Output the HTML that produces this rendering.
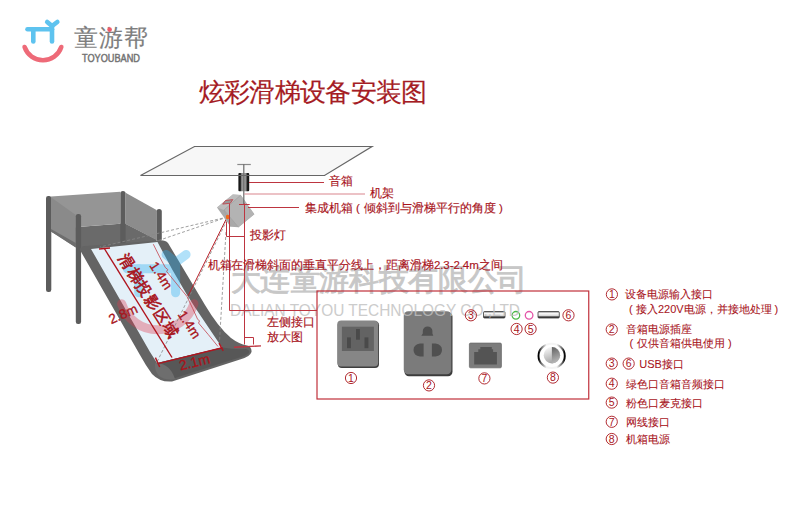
<!DOCTYPE html>
<html><head><meta charset="utf-8">
<style>
html,body{margin:0;padding:0;background:#fff;}
body{width:800px;height:531px;overflow:hidden;position:relative;font-family:"Liberation Sans",sans-serif;}
svg{position:absolute;left:0;top:0;}
svg text{font-family:"Liberation Sans",sans-serif;}
</style></head>
<body>
<svg width="800" height="531" viewBox="0 0 800 531">
<defs>
  <linearGradient id="spk" x1="0" x2="1" y1="0" y2="0">
    <stop offset="0" stop-color="#111"/>
    <stop offset="0.18" stop-color="#1e1e1e"/>
    <stop offset="0.3" stop-color="#8a8a8a"/>
    <stop offset="0.5" stop-color="#a8a8a8"/>
    <stop offset="0.7" stop-color="#8a8a8a"/>
    <stop offset="0.82" stop-color="#1e1e1e"/>
    <stop offset="1" stop-color="#111"/>
  </linearGradient>
  <linearGradient id="ring" x1="0" x2="1" y1="0" y2="0">
    <stop offset="0" stop-color="#000"/>
    <stop offset="0.1" stop-color="#666"/>
    <stop offset="0.3" stop-color="#f4f4f4"/>
    <stop offset="0.7" stop-color="#f4f4f4"/>
    <stop offset="0.9" stop-color="#666"/>
    <stop offset="1" stop-color="#000"/>
  </linearGradient>
  <linearGradient id="knobL" x1="0" x2="0.3" y1="0" y2="1">
    <stop offset="0" stop-color="#ffffff"/>
    <stop offset="1" stop-color="#a8a8a8"/>
  </linearGradient>
  <linearGradient id="knobR" x1="0" x2="0.2" y1="0" y2="1">
    <stop offset="0" stop-color="#606060"/>
    <stop offset="1" stop-color="#b8b8b8"/>
  </linearGradient>
  <linearGradient id="usb" x1="0" x2="0" y1="0" y2="1">
    <stop offset="0" stop-color="#555"/>
    <stop offset="0.2" stop-color="#fdfdfd"/>
    <stop offset="0.6" stop-color="#e0e0e0"/>
    <stop offset="0.8" stop-color="#555"/>
    <stop offset="1" stop-color="#222"/>
  </linearGradient>
</defs>

<!-- small logo -->
<g>
    <g stroke="#5ec3ef" stroke-width="4.6" stroke-linecap="round" fill="none">
      <path d="M27.5 29.2 H52"/>
      <path d="M33.3 29.2 V41.4"/>
      <path d="M52 25.5 V41.4"/>
      <path d="M47.2 22 L52 26 L57.3 22"/>
    </g>
    <path d="M24.6 47 A19.35 19.35 0 0 0 61.3 47" stroke="#ee6a78" stroke-width="4.6" stroke-linecap="round" fill="none"/>
  </g>
  
<text x="73.5" y="46.3" font-size="24" fill="#7e7e7e" stroke="#7e7e7e" stroke-width="0.15" letter-spacing="1.2">童游帮</text>
<text x="82" y="61.5" font-size="10" fill="#737373" stroke="#737373" stroke-width="0.45" textLength="58" lengthAdjust="spacingAndGlyphs">TOYOUBAND</text>
<circle cx="109.6" cy="29.6" r="2.3" fill="#f05a6a"/>

<!-- title -->
<text x="198.6" y="101.3" font-size="25.5" letter-spacing="-0.65" fill="#a51c24" stroke="#a51c24" stroke-width="0.18">炫彩滑梯设备安装图</text>

<!-- ceiling plane -->
<polygon points="194.5,146.5 372,146.5 324.5,175.5 140.5,175.5" fill="#f7f7f7" stroke="#666" stroke-width="1.2"/>

<!-- platform -->
<g>
  <rect x="46" y="196" width="5.3" height="96" rx="2.2" fill="#5c5c5c"/>
  <polygon points="51,229 120.3,223.7 125.6,223.7 156.5,239.5 156.5,241.5 81,247.5 51,231.5" fill="#6a6a6a"/>
  <rect x="120.3" y="191" width="5.3" height="54" rx="2.6" fill="#5c5c5c"/>
  <polygon points="51,196.6 120.3,191.7 120.3,223.7 51,229" fill="#959595"/>
  <polygon points="51,197.2 75.8,215 75.8,247.4 51,231.5" fill="#8a8a8a"/>
  <polygon points="51,229 75.8,243 75.8,247.4 51,231.5" fill="#6e6e6e"/>
  <polygon points="125.6,192.8 156.5,210.1 156.5,240 125.6,224" fill="#8c8c8c"/>
  <rect x="75.8" y="214" width="5.3" height="110" rx="2.2" fill="#5c5c5c"/>
  <rect x="156.5" y="209" width="5.3" height="32" rx="2.6" fill="#5c5c5c"/>
</g>

<!-- slide -->
<g>
  <path d="M80 250 Q80 246 85 246 L158 240.5 Q165 239.5 168 243 L205 305 Q218 327 231 338 Q239 344 247 345.5 Q252 347 251.5 352 Q250 357 240 359.5 L172 381.5 Q160 382.5 152 374 Q146 366 140 355 Z" fill="#646464"/>
  <polygon points="91,249 157.5,242 172.5,270 186.5,294 195.4,308 217.8,341.3 222,347.5 157,363 150,352" fill="#e4f0f8"/>
  <path d="M157 363 L222 347.5 Q236 350 246 349 Q250 350 249 353 Q246 356 238 358 L172 379 Q165 379 162 373 Z" fill="#575757"/>
  <path d="M155 363 Q170 363 175 379 Q166 381 159 376 Q154 370 155 363 Z" fill="#6e6e6e"/>
</g>

<!-- watermark logo -->
<g opacity="0.36">
  <g transform="translate(122.8 268.7) scale(1.97) translate(-25.2 -29.2)">
    <g stroke="#2aaef0" stroke-width="4.6" stroke-linecap="round" fill="none">
      <path d="M27.5 29.2 H52"/>
      <path d="M33.3 29.2 V41.4"/>
      <path d="M52 25.5 V41.4"/>
      <path d="M47.2 22 L52 26 L57.3 22"/>
    </g>
    <path d="M24.6 47 A19.35 19.35 0 0 0 61.3 47" stroke="#e03a50" stroke-width="4.6" stroke-linecap="round" fill="none"/>
  </g>
</g>

<!-- projection dashed lines -->
<g stroke="#888" stroke-width="0.8" stroke-dasharray="3 2" fill="none">
  <path d="M227.5 217 L100 247"/>
  <path d="M227.5 217 L157 241"/>
  <path d="M227 220 L157 362"/>
  <path d="M226 232 L219.5 341"/>
</g>

<!-- projection area red marks -->
<g stroke="#b0141e" stroke-width="1.4" fill="none">
  <path d="M104 248 L172 357.5"/>
  <path d="M99 249 L110 248"/>
  <path d="M158 363.6 L222.4 347.8"/>
  <path d="M155.4 357.6 L159.7 367"/>
  <path d="M219 343.2 L223.2 350.8"/>
</g>
<path d="M153.3 244.2 Q160 258 165.3 267.5 L167.8 269.6 L166.6 271.5 Q176 283 185 294 L187 296.5 Q193 309 197.5 319 L199.5 321 L198.5 323 Q208 334 218 346.5" stroke="#c23a44" stroke-width="0.75" fill="none"/>
<path d="M227 217.5 L188 296" stroke="#b82028" stroke-width="1" fill="none"/>

<!-- slide texts -->
<g fill="#a8141c" stroke="#a8141c" stroke-width="0.3">
  <text font-size="15.4" stroke-width="0.6" letter-spacing="1.2" text-anchor="middle" transform="translate(148.6 295.4) rotate(57.5)" dx="0.6" dy="5.6">滑梯投影区域</text>
  <text font-size="13.5" text-anchor="middle" transform="translate(161.3 275.5) rotate(57)" dy="4.8">1.4m</text>
  <text font-size="13.5" text-anchor="middle" transform="translate(189.5 324.5) rotate(57)" dy="4.8">1.4m</text>
  <text font-size="13.5" text-anchor="middle" transform="translate(123 313.8) rotate(-24)" dy="4.8">2.8m</text>
  <text font-size="14" text-anchor="middle" transform="translate(194.4 361.9) rotate(-13.8)" dy="5">2.1m</text>
</g>

<!-- speaker & rack -->
<path d="M237.3 164.5 H250.8" stroke="#8a8a8a" stroke-width="1.2"/>
<rect x="238.4" y="173" width="10.8" height="18.2" rx="1" fill="url(#spk)"/>
<path d="M238 175.5 H249.6" stroke="#666" stroke-width="1"/>

<!-- cube -->
<polygon points="217,207.5 232.8,194.5 240.7,195.1 254.3,214.3 238.5,227.3 230.6,226.7" fill="#a9a9a9"/>
<polygon points="217,207.5 232.8,194.5 240.7,195.1 224,210" fill="#bdbdbd"/>
<polygon points="224,210 240.7,195.1 254.3,214.3 238.5,227.3" fill="#b3b3b3"/>
<path d="M224 210 L230.6 226.7 M224 210 L240.7 195.1 M238.5 227.3 L224 210" stroke="#a0a0a0" stroke-width="0.6" fill="none"/>
<path d="M222.7 204.1 L225.5 200.5 L232.8 199.6 L230.3 203.2 Z" fill="#9a9a9a" stroke="#c23a44" stroke-width="0.8"/>
<path d="M243.8 164.3 V204" stroke="#6a6a6a" stroke-width="1.2"/>
<ellipse cx="227.6" cy="217" rx="1.8" ry="2.2" fill="#f06a1a"/>

<!-- socket 1 -->
<rect x="337.8" y="321.3" width="41.2" height="46.8" rx="4" fill="#3e3e3e"/>
<rect x="337.2" y="320.5" width="41" height="46" rx="4" fill="#868686"/>
<rect x="341.9" y="326.7" width="32" height="24.3" fill="#636363"/>
<rect x="347" y="337.4" width="3.9" height="10.8" fill="#4a4a4a"/>
<rect x="356" y="329" width="3.9" height="10.7" fill="#4a4a4a"/>
<rect x="364.5" y="337.4" width="3.9" height="10.8" fill="#4a4a4a"/>

<!-- socket 2 -->
<rect x="404.5" y="312.2" width="48" height="64" rx="4.5" fill="#3c3c3c"/>
<rect x="403.75" y="311.25" width="47.6" height="63" rx="4.5" fill="#7b7b7b"/>
<path d="M421.3 335.8 H433.3 L432.4 333.4 V331 A4.8 4.6 0 0 0 422.8 331 V333.4 Z" fill="#505050"/>
<path d="M423.6 343.5 V356.5 H420 Q413.5 355.5 413.5 350 Q413.5 344.5 420 343.5 Z" fill="#505050"/>
<path d="M431.9 343.5 V356.5 H435.5 Q442 355.5 442 350 Q442 344.5 435.5 343.5 Z" fill="#505050"/>

<!-- usb & jacks -->
<rect x="483.5" y="311.6" width="21.5" height="6.4" rx="1" fill="url(#usb)" stroke="#3a3a3a" stroke-width="0.8"/>
<rect x="538" y="311.6" width="21.3" height="6.4" rx="1" fill="url(#usb)" stroke="#3a3a3a" stroke-width="0.8"/>
<circle cx="515.9" cy="315.3" r="3.8" fill="none" stroke="#4cb848" stroke-width="1.3"/>
<circle cx="529.1" cy="315.3" r="3.8" fill="none" stroke="#e455a8" stroke-width="1.3"/>

<!-- network -->
<rect x="469.4" y="343.1" width="32" height="24.7" rx="1.2" fill="#7c7c7c" stroke="#6c6c6c" stroke-width="0.8"/>
<path d="M474.2 364.6 V352.1 H478.3 V349.2 H480.3 V347 H491.8 V349.2 H493.1 V352.1 H496.9 V364.6 Z" fill="#545454"/>

<!-- knob -->
<ellipse cx="551.65" cy="355.9" rx="13.1" ry="12.2" fill="none" stroke="url(#ring)" stroke-width="2"/>
<circle cx="551.9" cy="355.2" r="8.2" fill="url(#knobL)"/>
<path d="M551.9 347 A8.2 8.2 0 0 1 551.9 363.4 Z" fill="url(#knobR)"/>

<!-- watermark text -->
<g opacity="0.8">
<text x="230.5" y="289.7" font-size="29.5" fill="#bababa" stroke="#bababa" stroke-width="0.9" letter-spacing="-0.35">大连童游科技有限公司</text>
<text x="230" y="316" font-size="16.2" fill="#c0c0c0" textLength="290" lengthAdjust="spacingAndGlyphs">DALIAN TOYOU TECHNOLOGY CO.,LTD</text>
</g>
<!-- red callout lines -->
<g stroke="#bd3540" stroke-width="1" fill="none">
  <path d="M249 182.5 H324"/>
  <path d="M248 207.5 H299"/>
  <path d="M239 204.5 H249.7"/>
  <path d="M229.5 203.5 V310.5 H317"/>
  <path d="M244.5 203.5 V344.5"/>
  <path d="M244.5 337.5 H253.5 V344.5"/>
  <path d="M226.5 221.8 V236.5 H244.6"/>
  <path d="M234 347.3 L261 345.9" stroke-width="1.4"/>
</g>
<path d="M244.4 194 H365" stroke="#d9868d" stroke-width="1.2"/>

<!-- labels -->
<g fill="#a8141c" stroke="#a8141c" stroke-width="0.15" font-size="11.5">
  <text x="329" y="185.2">音箱</text>
  <text x="370" y="197.4">机架</text>
  <text x="305" y="211.7">集成机箱<tspan x="356">(</tspan><tspan x="364.3">倾斜到与滑梯平行的角度</tspan><tspan x="499">)</tspan></text>
  <text x="250" y="239">投影灯</text>
  <text x="207.6" y="269" textLength="295" lengthAdjust="spacing">机箱在滑梯斜面的垂直平分线上，距离滑梯2.3-2.4m之间</text>
  <text x="266.7" y="325.5">左侧接口</text>
  <text x="266.7" y="341">放大图</text>
</g>

<!-- panel box -->
<rect x="317" y="291" width="271.75" height="108" fill="none" stroke="#c0303a" stroke-width="1.2"/>

<!-- circled numbers in panel -->
<g transform="translate(351 378)"><circle r="5.6" fill="none" stroke="#a8141c" stroke-width="0.9"/><text y="3.75" font-size="10.5" text-anchor="middle" fill="#a8141c">1</text></g>
<g transform="translate(429 385.4)"><circle r="5.6" fill="none" stroke="#a8141c" stroke-width="0.9"/><text y="3.75" font-size="10.5" text-anchor="middle" fill="#a8141c">2</text></g>
<g transform="translate(470.9 315.3)"><circle r="5.6" fill="none" stroke="#a8141c" stroke-width="0.9"/><text y="3.75" font-size="10.5" text-anchor="middle" fill="#a8141c">3</text></g>
<g transform="translate(568.5 315.3)"><circle r="5.6" fill="none" stroke="#a8141c" stroke-width="0.9"/><text y="3.75" font-size="10.5" text-anchor="middle" fill="#a8141c">6</text></g>
<g transform="translate(516.6 329)"><circle r="5.6" fill="none" stroke="#a8141c" stroke-width="0.9"/><text y="3.75" font-size="10.5" text-anchor="middle" fill="#a8141c">4</text></g>
<g transform="translate(530.6 329)"><circle r="5.6" fill="none" stroke="#a8141c" stroke-width="0.9"/><text y="3.75" font-size="10.5" text-anchor="middle" fill="#a8141c">5</text></g>
<g transform="translate(484.4 378.4)"><circle r="5.6" fill="none" stroke="#a8141c" stroke-width="0.9"/><text y="3.75" font-size="10.5" text-anchor="middle" fill="#a8141c">7</text></g>
<g transform="translate(552.9 377.6)"><circle r="5.6" fill="none" stroke="#a8141c" stroke-width="0.9"/><text y="3.75" font-size="10.5" text-anchor="middle" fill="#a8141c">8</text></g>

<!-- legend -->
<g transform="translate(611.9 294.4)"><circle r="5.6" fill="none" stroke="#a8141c" stroke-width="0.9"/><text y="3.75" font-size="10.5" text-anchor="middle" fill="#a8141c">1</text></g>
<g transform="translate(611.75 329.5)"><circle r="5.6" fill="none" stroke="#a8141c" stroke-width="0.9"/><text y="3.75" font-size="10.5" text-anchor="middle" fill="#a8141c">2</text></g>
<g transform="translate(611.75 363.6)"><circle r="5.6" fill="none" stroke="#a8141c" stroke-width="0.9"/><text y="3.75" font-size="10.5" text-anchor="middle" fill="#a8141c">3</text></g>
<g transform="translate(628.65 363.6)"><circle r="5.6" fill="none" stroke="#a8141c" stroke-width="0.9"/><text y="3.75" font-size="10.5" text-anchor="middle" fill="#a8141c">6</text></g>
<g transform="translate(611.75 383.7)"><circle r="5.6" fill="none" stroke="#a8141c" stroke-width="0.9"/><text y="3.75" font-size="10.5" text-anchor="middle" fill="#a8141c">4</text></g>
<g transform="translate(611.75 402.6)"><circle r="5.6" fill="none" stroke="#a8141c" stroke-width="0.9"/><text y="3.75" font-size="10.5" text-anchor="middle" fill="#a8141c">5</text></g>
<g transform="translate(611.75 421.8)"><circle r="5.6" fill="none" stroke="#a8141c" stroke-width="0.9"/><text y="3.75" font-size="10.5" text-anchor="middle" fill="#a8141c">7</text></g>
<g transform="translate(611.75 439)"><circle r="5.6" fill="none" stroke="#a8141c" stroke-width="0.9"/><text y="3.75" font-size="10.5" text-anchor="middle" fill="#a8141c">8</text></g>
<g fill="#a8141c" stroke="#a8141c" stroke-width="0.08" font-size="11">
  <text x="625" y="298.3">设备电源输入接口</text>
  <text x="629" y="312.8">(<tspan x="636">接入220V电源，并接地处理</tspan><tspan x="774.5">)</tspan></text>
  <text x="626.3" y="333.2">音箱电源插座</text>
  <text x="629.5" y="347.3">(<tspan x="637">仅供音箱供电使用</tspan><tspan x="728">)</tspan></text>
  <text x="639.2" y="367.5">USB接口</text>
  <text x="626.3" y="387.6">绿色口音箱音频接口</text>
  <text x="626.3" y="406.7">粉色口麦克接口</text>
  <text x="626.3" y="425.7">网线接口</text>
  <text x="626.3" y="443.1">机箱电源</text>
</g>

</svg>
</body></html>
